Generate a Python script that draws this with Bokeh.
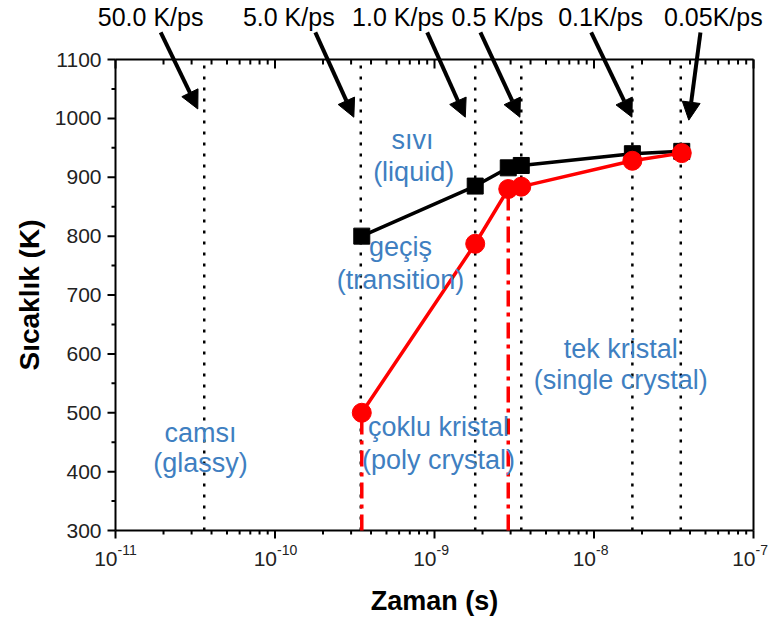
import math
from bokeh.plotting import figure
from bokeh.models import Arrow, NormalHead, ColumnDataSource, Range1d
from bokeh.embed import file_html
from bokeh.resources import INLINE
from bokeh.core.properties import value

# ---------------- data ----------------
# cooling rates and the time at which each cooling run ends (vertical dotted lines)
rate_labels = ["50.0 K/ps", "5.0 K/ps", "1.0 K/ps", "0.5 K/ps", "0.1K/ps", "0.05K/ps"]
rate_times = [3.6e-11, 3.45e-10, 1.8e-9, 3.5e-9, 1.74e-8, 3.5e-8]

# label / arrow anchors for the cooling-rate call-outs
rate_label_x = [1.66e-11, 1.22e-10, 5.9e-10, 2.48e-9, 1.10e-8, 5.6e-8]
rate_label_y = [1173, 1173, 1173, 1173, 1173, 1173]
arrow_x0 = [1.92e-11, 1.79e-10, 9.0e-10, 1.94e-9, 9.6e-9, 4.65e-8]
arrow_y0 = [1146, 1146, 1146, 1146, 1146, 1146]
arrow_x1 = [3.28e-11, 3.12e-10, 1.56e-9, 3.43e-9, 1.73e-8, 3.93e-8]
arrow_y1 = [1016, 1002, 1002, 1002, 1002, 997]

# series: black squares (upper curve) and red circles (lower curve)
times = [3.5e-10, 1.8e-9, 2.9e-9, 3.5e-9, 1.74e-8, 3.55e-8]
temp_black = [800, 885, 916, 920, 940, 944]
temp_red = [500, 787, 880, 884, 928, 941]

# red dash-dot drop lines
onset_times = [3.5e-10, 2.9e-9]
onset_temps = [500, 880]

# region annotations
region_text = ["sıvı", "(liquid)", "geçiş", "(transition)", "tek kristal", "(single crystal)",
               "çoklu kristal", "(poly crystal)", "camsı", "(glassy)"]
region_x = [7.28e-10, 7.4e-10, 6.12e-10, 6.12e-10, 1.47e-8, 1.47e-8, 1.06e-9, 1.06e-9, 3.41e-11, 3.41e-11]
region_y = [963, 909, 781, 725, 609, 555, 475, 419, 466, 415]

x_major = [1e-11, 1e-10, 1e-9, 1e-8, 1e-7]
x_exponents = ["-11", "-10", "-9", "-8", "-7"]
x_minor = [m * 10.0 ** e for e in range(-11, -7) for m in range(2, 10)]
y_major = [300, 400, 500, 600, 700, 800, 900, 1000, 1100]
y_minor = [350, 450, 550, 650, 750, 850, 950, 1050]
y_tick_labels = [str(v) for v in y_major]

X_MIN, X_MAX = 1e-11, 1e-7
Y_MIN, Y_MAX = 300, 1100

# ---------------- layout ----------------
W, H = 770, 618
LEFT, RIGHT_EDGE, TOP_EDGE, BOTTOM_EDGE = 115, 753, 59, 530   # axes box in canvas pixels
PX_PER_K = (BOTTOM_EDGE - TOP_EDGE) / (Y_MAX - Y_MIN)
PX_PER_DEC = (RIGHT_EDGE - LEFT) / 4.0


def xdata(px):
    return X_MIN * 10 ** ((px - LEFT) / PX_PER_DEC)


def ydata(py):
    return Y_MAX - (py - TOP_EDGE) / PX_PER_K


def xoff(px):
    """log-axis factor for a horizontal offset of px pixels"""
    return 10 ** (px / PX_PER_DEC)


FONT = "Liberation Sans"
BLUE = "#3f7fc1"
TICK_COLOR = "#222222"

# the frame covers the whole canvas so that nothing is clipped; axes are drawn as glyphs
p = figure(width=W, height=H, x_axis_type="log", x_axis_location=None, y_axis_location=None,
           x_range=Range1d(xdata(0), xdata(W)), y_range=Range1d(ydata(H), ydata(0)),
           output_backend="svg", toolbar_location=None,
           min_border_left=0, min_border_right=0, min_border_top=0, min_border_bottom=0)
p.xgrid.visible = False
p.ygrid.visible = False
p.outline_line_color = None
p.background_fill_color = "white"
p.border_fill_color = "white"

# box
p.segment(x0=[X_MIN, X_MIN, X_MAX, X_MIN], x1=[X_MIN, X_MAX, X_MAX, X_MAX],
          y0=[Y_MIN, Y_MAX, Y_MIN, Y_MIN], y1=[Y_MAX, Y_MAX, Y_MAX, Y_MIN],
          line_color="black", line_width=2)
# top ticks (inward)
p.segment(x0=x_major, x1=x_major, y0=[Y_MAX] * len(x_major),
          y1=[Y_MAX - 9 / PX_PER_K] * len(x_major), line_color="black", line_width=2)
p.segment(x0=x_minor, x1=x_minor, y0=[Y_MAX] * len(x_minor),
          y1=[Y_MAX - 5 / PX_PER_K] * len(x_minor), line_color="black", line_width=2)
# bottom ticks (outward)
p.segment(x0=x_major, x1=x_major, y0=[Y_MIN] * len(x_major),
          y1=[Y_MIN - 8 / PX_PER_K] * len(x_major), line_color="black", line_width=2)
p.segment(x0=x_minor, x1=x_minor, y0=[Y_MIN] * len(x_minor),
          y1=[Y_MIN - 4 / PX_PER_K] * len(x_minor), line_color="black", line_width=2)
# left ticks (outward)
p.segment(x0=[X_MIN] * len(y_major), x1=[X_MIN / xoff(8)] * len(y_major), y0=y_major, y1=y_major,
          line_color="black", line_width=2)
p.segment(x0=[X_MIN] * len(y_minor), x1=[X_MIN / xoff(4)] * len(y_minor), y0=y_minor, y1=y_minor,
          line_color="black", line_width=2)

# tick labels
p.text(x=[X_MIN / xoff(14)] * len(y_major), y=y_major, text=y_tick_labels,
       text_font=value(FONT), text_font_size="21px", text_color=TICK_COLOR,
       text_align="right", text_baseline="middle")
p.text(x=[t * xoff(2) for t in x_major], y=[ydata(BOTTOM_EDGE + 28)] * len(x_major),
       text=["10"] * len(x_major), text_font=value(FONT), text_font_size="21px",
       text_color=TICK_COLOR, text_align="right", text_baseline="middle")
p.text(x=[t * xoff(2) for t in x_major], y=[ydata(BOTTOM_EDGE + 19)] * len(x_major),
       text=x_exponents, text_font=value(FONT), text_font_size="14px",
       text_color=TICK_COLOR, text_align="left", text_baseline="middle")

# axis titles
p.text(x=[xdata(29)], y=[(Y_MIN + Y_MAX) / 2], text=["Sıcaklık (K)"],
       angle=math.pi / 2, text_font=value(FONT), text_font_size="28px", text_font_style="bold",
       text_color="black", text_align="center", text_baseline="middle")
p.text(x=[math.sqrt(X_MIN * X_MAX)], y=[ydata(600)], text=["Zaman (s)"],
       text_font=value(FONT), text_font_size="27px", text_font_style="bold",
       text_color="black", text_align="center", text_baseline="middle")

# vertical dotted lines
p.segment(x0=rate_times, x1=rate_times, y0=[Y_MIN] * len(rate_times), y1=[Y_MAX] * len(rate_times),
          line_color="black", line_width=2.5, line_dash="3 8")

# red dash-dot drop lines
p.segment(x0=onset_times, x1=onset_times, y0=[Y_MIN] * len(onset_times), y1=onset_temps,
          line_color="red", line_width=3.5, line_dash="16 6 4 6")

# series
p.line(times, temp_black, line_color="black", line_width=3.5)
p.scatter(times, temp_black, marker="square", size=16, fill_color="black", line_color="black")
p.line(times, temp_red, line_color="red", line_width=3.5)
p.scatter(times, temp_red, marker="circle", size=19, fill_color="red", line_color="red")

# region texts
src = ColumnDataSource(dict(x=region_x, y=region_y, t=region_text))
p.text(x="x", y="y", text="t", source=src, text_font=value(FONT), text_font_size="27px",
       text_color=BLUE, text_align="center", text_baseline="middle")

# arrows and rate labels
asrc = ColumnDataSource(dict(x0=arrow_x0, y0=arrow_y0, x1=arrow_x1, y1=arrow_y1))
p.add_layout(Arrow(source=asrc, x_start="x0", y_start="y0", x_end="x1", y_end="y1",
                   line_color="black", line_width=4,
                   end=NormalHead(size=18, fill_color="black", line_color="black", line_width=1)))
lsrc = ColumnDataSource(dict(x=rate_label_x, y=rate_label_y, t=rate_labels))
p.text(x="x", y="y", text="t", source=lsrc, text_font=value(FONT), text_font_size="25px",
       text_color="black", text_align="center", text_baseline="middle")

open("out.html", "w").write(file_html(p, INLINE))
